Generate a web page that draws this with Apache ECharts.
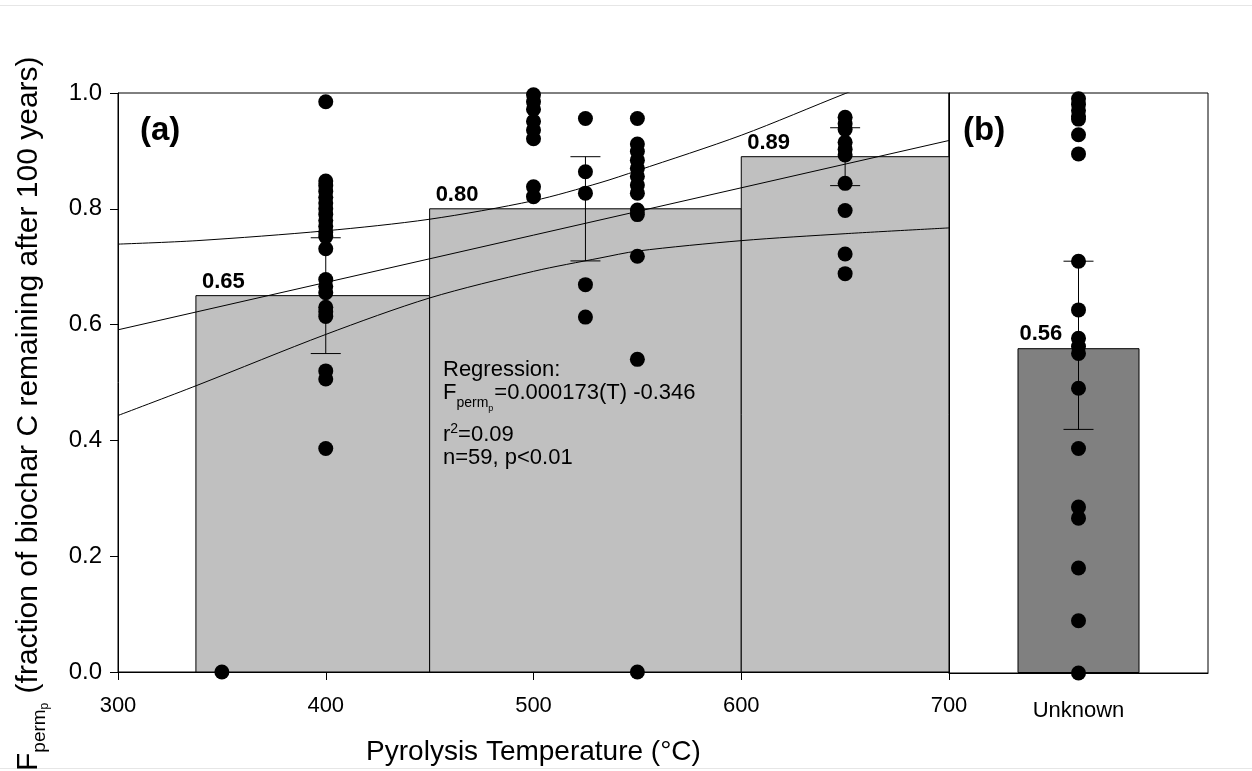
<!DOCTYPE html>
<html>
<head>
<meta charset="utf-8">
<script src="https://cdn.jsdelivr.net/npm/echarts@6/dist/echarts.min.js"></script>
<style>
html,body{margin:0;padding:0;background:#fff;}
#c{width:1252px;height:771px;}
</style>
</head>
<body>
<div id="c"></div>
<script>
// ---------------- data ----------------
const binStart = [337.5, 450, 600];
const binEnd = [450, 600, 700];
const binMean = [0.65, 0.80, 0.89];
const errTemp = [400, 525, 650];
const errLow = [0.55, 0.71, 0.84];
const errHigh = [0.75, 0.89, 0.94];

const unknownCategory = ['Unknown'];
const unknownMean = [0.56];
const unknownLow = [0.42];
const unknownHigh = [0.71];

const temps350 = 350, temps400 = 400, temps500 = 500, temps525 = 525, temps550 = 550, temps650 = 650;
const pts350 = [0.0];
const pts400 = [0.985, 0.848, 0.840, 0.830, 0.820, 0.810, 0.800, 0.790, 0.780, 0.770, 0.760, 0.752, 0.731, 0.678, 0.666, 0.655, 0.630, 0.622, 0.614, 0.520, 0.506, 0.386];
const pts500 = [0.997, 0.985, 0.972, 0.951, 0.936, 0.921, 0.838, 0.821];
const pts525 = [0.956, 0.864, 0.827, 0.669, 0.613];
const pts550 = [0.956, 0.912, 0.899, 0.884, 0.870, 0.856, 0.841, 0.827, 0.798, 0.790, 0.718, 0.540, 0.0];
const pts650 = [0.958, 0.947, 0.937, 0.915, 0.903, 0.893, 0.844, 0.797, 0.722, 0.688];
const ptsUnknown = [0.99, 0.98, 0.97, 0.96, 0.955, 0.928, 0.895, 0.71, 0.626, 0.577, 0.563, 0.551, 0.491, 0.387, 0.286, 0.267, 0.181, 0.09, 0.0];

const regTemp = [300, 700];
const regMid = [0.591, 0.918];
const bandTemp = [300, 338, 400, 450, 500, 532, 550, 600, 650, 700];
const bandUpper = [0.739, 0.745, 0.762, 0.782, 0.814, 0.845, 0.866, 0.927, 0.999, 1.069];
const bandLower = [0.443, 0.495, 0.583, 0.646, 0.692, 0.715, 0.727, 0.745, 0.757, 0.767];

// ---------------- helpers ----------------
const FF = '"Liberation Sans", Arial, sans-serif';
const mctx = document.createElement('canvas').getContext('2d');
function tw(t, size, weight) {
  mctx.font = (weight || 'normal') + ' ' + size + 'px "Liberation Sans"';
  return mctx.measureText(t).width;
}
function txt(t, x, baseline, size, weight) {
  return {
    type: 'text', x: x, y: baseline - 0.32 * size, z: 100,
    style: { text: t, fontSize: size, fontWeight: weight || 'normal', fontFamily: FF, fill: '#000', align: 'left', verticalAlign: 'middle' }
  };
}

const scatterData = [];
[[temps350, pts350], [temps400, pts400], [temps500, pts500], [temps525, pts525], [temps550, pts550], [temps650, pts650]]
  .forEach(([t, arr]) => arr.forEach(v => scatterData.push([t, v])));

// regression annotation (line pieces)
const rx = 443;
const regPieces = [];
regPieces.push(txt('Regression:', rx, 377, 22));
let cx = rx;
regPieces.push(txt('F', cx, 400, 22)); cx += tw('F', 22);
regPieces.push(txt('perm', cx, 408, 14)); cx += tw('perm', 14);
regPieces.push(txt('p', cx, 411, 9)); cx += tw('p', 9) + 1;
regPieces.push(txt('=0.000173(T) -0.346', cx, 400, 22));
cx = rx;
regPieces.push(txt('r', cx, 442, 22)); cx += tw('r', 22);
regPieces.push(txt('2', cx, 434, 14)); cx += tw('2', 14);
regPieces.push(txt('=0.09', cx, 442, 22));
regPieces.push(txt('n=59, p<0.01', rx, 465, 22));

// y axis title (rotated group)
const yt = [];
let lx = 0;
const YS = 30;
yt.push(txt('F', lx, 0, YS)); lx += tw('F', YS);
yt.push(txt('perm', lx, 8, 19)); lx += tw('perm', 19);
yt.push(txt('p', lx, 11, 12)); lx += tw('p', 12) + 1;
yt.push(txt(' (fraction of biochar C remaining after 100 years)', lx, 0, YS));

const chart = echarts.init(document.getElementById('c'), null, { renderer: 'canvas' });

const option = {
  animation: false,
  backgroundColor: '#fff',
  textStyle: { fontFamily: FF },
  grid: [
    { left: 118, top: 93, width: 831, height: 580, show: true, borderColor: '#000', borderWidth: 1, backgroundColor: 'transparent' },
    { left: 949, top: 93, width: 259, height: 580, show: true, borderColor: '#000', borderWidth: 1, backgroundColor: 'transparent' }
  ],
  xAxis: [
    {
      gridIndex: 0, type: 'value', min: 300, max: 700, interval: 100,
      axisLine: { onZero: false, lineStyle: { color: '#000' } },
      axisTick: { length: 8, lineStyle: { color: '#000' } },
      axisLabel: { fontSize: 22, color: '#000', margin: 23, fontFamily: FF },
      splitLine: { show: false },
      name: 'Pyrolysis Temperature (°C)', nameLocation: 'middle', nameGap: 66,
      nameTextStyle: { fontSize: 28, color: '#000', fontFamily: FF }
    },
    {
      gridIndex: 1, type: 'category', data: unknownCategory,
      axisLine: { onZero: false, lineStyle: { color: '#000' } },
      axisTick: { show: false },
      axisLabel: { fontSize: 22, color: '#000', margin: 27, fontFamily: FF },
      splitLine: { show: false }
    }
  ],
  yAxis: [
    {
      gridIndex: 0, type: 'value', min: 0, max: 1, interval: 0.2,
      axisLine: { show: true, onZero: false, lineStyle: { color: '#000' } },
      axisTick: { show: true, length: 8, lineStyle: { color: '#000' } },
      axisLabel: { fontSize: 24, color: '#000', margin: 16, fontFamily: FF, formatter: v => v.toFixed(1) },
      splitLine: { show: false }
    },
    {
      gridIndex: 1, type: 'value', min: 0, max: 1,
      axisLine: { show: true, onZero: false, lineStyle: { color: '#000' } },
      axisTick: { show: false }, axisLabel: { show: false }, splitLine: { show: false }
    }
  ],
  series: [
    {
      type: 'custom', xAxisIndex: 0, yAxisIndex: 0, z: 1,
      data: binStart.map((s, i) => [s, binEnd[i], binMean[i]]),
      renderItem: function (params, api) {
        const p0 = api.coord([api.value(0), api.value(2)]);
        const p1 = api.coord([api.value(1), 0]);
        return {
          type: 'group', children: [
            { type: 'rect', shape: { x: p0[0], y: p0[1], width: p1[0] - p0[0], height: p1[1] - p0[1] },
              style: { fill: '#c0c0c0', stroke: '#000', lineWidth: 1 } },
            { type: 'text', x: p0[0] + 6, y: p0[1] - 3,
              style: { text: api.value(2).toFixed(2), fontSize: 22, fontWeight: 'bold', fontFamily: FF, fill: '#000', align: 'left', verticalAlign: 'bottom' } }
          ]
        };
      }
    },
    {
      type: 'line', xAxisIndex: 0, yAxisIndex: 0, z: 2, showSymbol: false, symbol: 'none', clip: true,
      data: regTemp.map((t, i) => [t, regMid[i]]), lineStyle: { color: '#000', width: 1 }
    },
    {
      type: 'line', xAxisIndex: 0, yAxisIndex: 0, z: 2, showSymbol: false, symbol: 'none', smooth: 0.3, clip: true,
      data: bandTemp.map((t, i) => [t, bandUpper[i]]), lineStyle: { color: '#000', width: 1 }
    },
    {
      type: 'line', xAxisIndex: 0, yAxisIndex: 0, z: 2, showSymbol: false, symbol: 'none', smooth: 0.3, clip: true,
      data: bandTemp.map((t, i) => [t, bandLower[i]]), lineStyle: { color: '#000', width: 1 }
    },
    {
      type: 'custom', xAxisIndex: 0, yAxisIndex: 0, z: 3,
      data: errTemp.map((t, i) => [t, errLow[i], errHigh[i]]),
      renderItem: errRender
    },
    {
      type: 'scatter', xAxisIndex: 0, yAxisIndex: 0, z: 4, clip: false,
      symbol: 'circle', symbolSize: 15, itemStyle: { color: '#000', opacity: 1 },
      data: scatterData
    },
    {
      type: 'bar', xAxisIndex: 1, yAxisIndex: 1, z: 1, barWidth: 122,
      data: unknownMean,
      itemStyle: { color: '#808080', borderColor: '#000', borderWidth: 1 },
      label: { show: true, position: [2, -3], align: 'left', verticalAlign: 'bottom',
        formatter: p => p.value.toFixed(2), fontSize: 22, fontWeight: 'bold', color: '#000', fontFamily: FF }
    },
    {
      type: 'custom', xAxisIndex: 1, yAxisIndex: 1, z: 3,
      data: unknownMean.map((m, i) => [i, unknownLow[i], unknownHigh[i]]),
      renderItem: errRender
    },
    {
      type: 'scatter', xAxisIndex: 1, yAxisIndex: 1, z: 4, clip: false,
      symbol: 'circle', symbolSize: 15, itemStyle: { color: '#000', opacity: 1 },
      data: ptsUnknown.map(v => [0, v])
    }
  ],
  graphic: [
    { type: 'line', z: 100, shape: { x1: 0, y1: 5.5, x2: 1252, y2: 5.5 }, style: { stroke: '#e6e6e6', lineWidth: 1 } },
    { type: 'line', z: 100, shape: { x1: 0, y1: 768.5, x2: 1252, y2: 768.5 }, style: { stroke: '#e6e6e6', lineWidth: 1 } },
    { type: 'text', z: 100, x: 140, y: 131, style: { text: '(a)', fontSize: 33, fontWeight: 'bold', fontFamily: FF, fill: '#000', align: 'left', verticalAlign: 'middle' } },
    { type: 'text', z: 100, x: 963, y: 131, style: { text: '(b)', fontSize: 33, fontWeight: 'bold', fontFamily: FF, fill: '#000', align: 'left', verticalAlign: 'middle' } },
    { type: 'group', z: 100, children: regPieces },
    { type: 'group', z: 100, x: 38, y: 771, rotation: Math.PI / 2, children: yt }
  ]
};

function errRender(params, api) {
  const top = api.coord([api.value(0), api.value(2)]);
  const bot = api.coord([api.value(0), api.value(1)]);
  const hw = 15;
  const st = { stroke: '#000', lineWidth: 1 };
  return {
    type: 'group', children: [
      { type: 'line', shape: { x1: top[0], y1: top[1], x2: bot[0], y2: bot[1] }, style: st },
      { type: 'line', shape: { x1: top[0] - hw, y1: top[1], x2: top[0] + hw, y2: top[1] }, style: st },
      { type: 'line', shape: { x1: bot[0] - hw, y1: bot[1], x2: bot[0] + hw, y2: bot[1] }, style: st }
    ]
  };
}

chart.setOption(option);
</script>
</body>
</html>
